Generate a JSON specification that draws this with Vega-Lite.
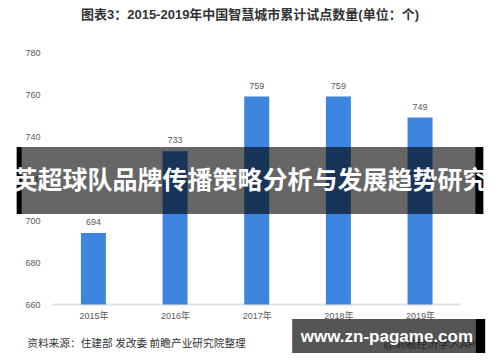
{
  "$schema": "https://vega.github.io/schema/vega-lite/v6.json",
  "width": 500,
  "height": 362,
  "autosize": {"type": "none"},
  "padding": 0,
  "background": "white",
  "config": {
    "view": {"stroke": null},
    "font": "Liberation Sans, Noto Sans CJK SC"
  },
  "title": {
    "text": "图表3：2015-2019年中国智慧城市累计试点数量(单位：个)",
    "fontSize": 13,
    "fontWeight": "bold",
    "color": "#333333",
    "font": "Liberation Sans, Noto Sans CJK SC",
    "anchor": "middle",
    "frame": "group",
    "offset": -22
  },
  "layer": [
    {
      "data": {"values": [{}]},
      "mark": {"type": "rule", "color": "#e2e2e2", "strokeWidth": 2},
      "encoding": {
        "x": {"datum": 2014.5, "type": "quantitative"},
        "x2": {"datum": 2019.5},
        "y": {"datum": 660, "type": "quantitative"}
      }
    },
    {
      "data": {
        "values": [
          {"year": 2015, "count": 694},
          {"year": 2016, "count": 733},
          {"year": 2017, "count": 759},
          {"year": 2018, "count": 759},
          {"year": 2019, "count": 749}
        ]
      },
      "layer": [
        {
          "mark": {"type": "bar", "size": 25, "color": "#3e85df"},
          "encoding": {
            "x": {
              "field": "year",
              "type": "quantitative",
              "scale": {"domain": [2013.9176, 2019.9178], "nice": false, "zero": false},
              "axis": {
                "title": null,
                "values": [2015, 2016, 2017, 2018, 2019],
                "labelExpr": "datum.value + '年'",
                "domain": false,
                "ticks": false,
                "tickSize": 0,
                "grid": false,
                "offset": -57.5,
                "labelPadding": 7,
                "labelFontSize": 9,
                "labelColor": "#595959",
                "labelFont": "Liberation Sans, Noto Sans CJK SC"
              }
            },
            "y": {
              "field": "count",
              "type": "quantitative",
              "scale": {"domain": [632.62, 805], "nice": false, "zero": false},
              "axis": {
                "title": null,
                "values": [660, 680, 700, 720, 740, 760, 780],
                "domain": false,
                "ticks": false,
                "tickSize": 0,
                "grid": false,
                "offset": -42,
                "labelPadding": 2,
                "labelFontSize": 9,
                "labelColor": "#595959",
                "labelFont": "Liberation Sans"
              }
            },
            "y2": {"datum": 660}
          }
        },
        {
          "mark": {"type": "text", "baseline": "bottom", "dy": -6, "fontSize": 9, "color": "#595959"},
          "encoding": {
            "x": {"field": "year", "type": "quantitative"},
            "y": {"field": "count", "type": "quantitative"},
            "text": {"field": "count"}
          }
        }
      ]
    },
    {
      "data": {"values": [{}]},
      "mark": {"type": "rect", "color": "black", "opacity": 0.6},
      "encoding": {
        "x": {"datum": 2014.0616, "type": "quantitative"},
        "x2": {"datum": 2019.7738},
        "y": {"datum": 735.0, "type": "quantitative"},
        "y2": {"datum": 703.1}
      }
    },
    {
      "data": {"values": [{}]},
      "mark": {"type": "rect", "color": "black"},
      "encoding": {
        "x": {"datum": 2014.0616, "type": "quantitative"},
        "x2": {"datum": 2014.1216},
        "y": {"datum": 735.0, "type": "quantitative"},
        "y2": {"datum": 703.1}
      }
    },
    {
      "data": {"values": [{}]},
      "mark": {"type": "rect", "color": "black"},
      "encoding": {
        "x": {"datum": 2019.6778, "type": "quantitative"},
        "x2": {"datum": 2019.7738},
        "y": {"datum": 735.0, "type": "quantitative"},
        "y2": {"datum": 703.1}
      }
    },
    {
      "data": {"values": [{"label": "英超球队品牌传播策略分析与发展趋势研究"}]},
      "mark": {
        "type": "text",
        "font": "Noto Sans CJK SC",
        "fontWeight": "bold",
        "fontSize": 25,
        "color": "white",
        "align": "center",
        "baseline": "middle"
      },
      "encoding": {
        "x": {"datum": 2016.9177, "type": "quantitative"},
        "y": {"datum": 718.8, "type": "quantitative"},
        "text": {"field": "label"}
      }
    },
    {
      "data": {"values": [{"label": "资料来源：住建部 发改委 前瞻产业研究院整理"}]},
      "mark": {
        "type": "text",
        "font": "Noto Sans CJK SC",
        "fontSize": 10.7,
        "color": "#333333",
        "align": "left",
        "baseline": "middle"
      },
      "encoding": {
        "x": {"datum": 2014.19, "type": "quantitative"},
        "y": {"datum": 641.19, "type": "quantitative"},
        "text": {"field": "label"}
      }
    },
    {
      "data": {"values": [{"label": "@前瞻经济学人APP"}]},
      "mark": {
        "type": "text",
        "font": "Liberation Sans, Noto Sans CJK SC",
        "fontSize": 11,
        "color": "#777777",
        "align": "right",
        "baseline": "middle"
      },
      "encoding": {
        "x": {"datum": 2019.7617, "type": "quantitative"},
        "y": {"datum": 640.71, "type": "quantitative"},
        "text": {"field": "label"}
      }
    },
    {
      "data": {"values": [{}]},
      "mark": {"type": "rect", "color": "black", "opacity": 0.667},
      "encoding": {
        "x": {"datum": 2017.4337, "type": "quantitative"},
        "x2": {"datum": 2019.6778},
        "y": {"datum": 653.1, "type": "quantitative"},
        "y2": {"datum": 636.9}
      }
    },
    {
      "data": {"values": [{}]},
      "mark": {"type": "rect", "color": "black"},
      "encoding": {
        "x": {"datum": 2019.6778, "type": "quantitative"},
        "x2": {"datum": 2019.7978},
        "y": {"datum": 653.1, "type": "quantitative"},
        "y2": {"datum": 636.9}
      }
    },
    {
      "data": {"values": [{"label": "www.zn-pagame.com"}]},
      "mark": {
        "type": "text",
        "font": "Liberation Sans",
        "fontWeight": "bold",
        "fontSize": 17,
        "color": "white",
        "align": "center",
        "baseline": "alphabetic"
      },
      "encoding": {
        "x": {"datum": 2018.594, "type": "quantitative"},
        "y": {"datum": 642.14, "type": "quantitative"},
        "text": {"field": "label"}
      }
    }
  ]
}
